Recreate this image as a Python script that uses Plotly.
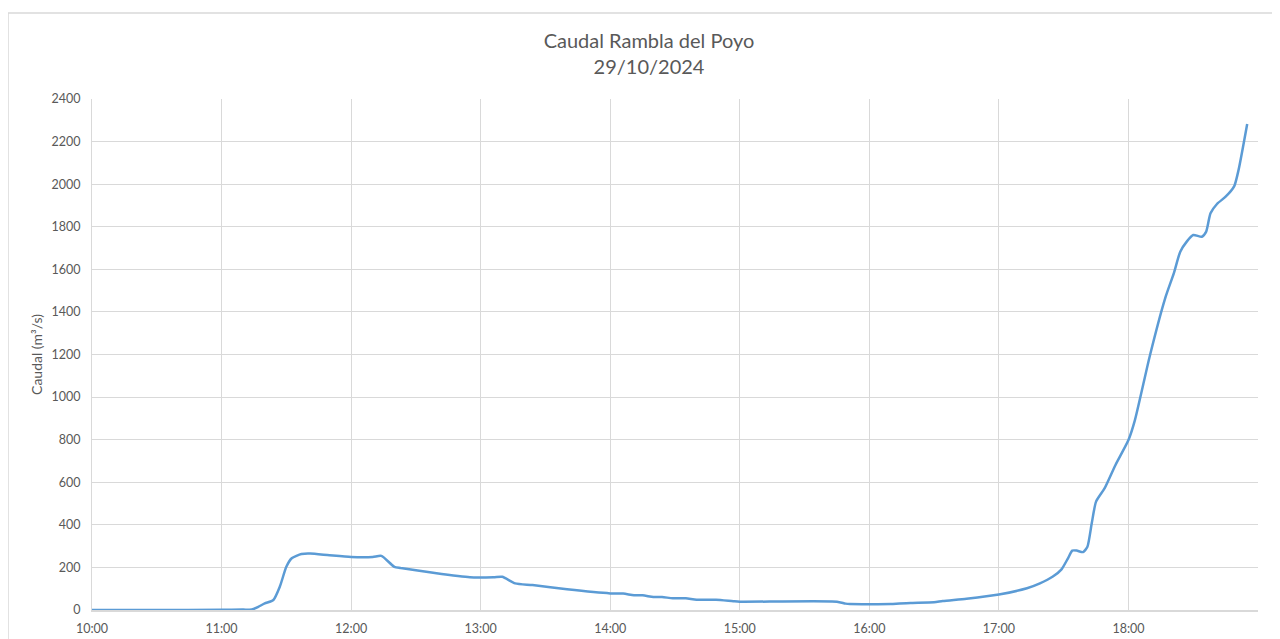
import plotly.graph_objects as go

times = ["10:00", "10:30", "11:00", "11:10", "11:14", "11:17", "11:20", "11:24", "11:27", "11:30",
         "11:32:30", "11:37", "11:41", "11:50", "12:00", "12:10", "12:14", "12:20", "12:23", "12:38",
         "12:55", "13:06", "13:10", "13:16", "13:24", "13:40", "14:00", "14:06", "14:11", "14:15",
         "14:20", "14:24", "14:29", "14:35", "14:40", "14:49", "14:57", "15:00", "15:45", "15:49",
         "15:51", "16:10", "16:14", "16:20", "16:30", "16:34", "16:45", "17:00", "17:13", "17:19",
         "17:25", "17:29", "17:32", "17:34", "17:36", "17:39", "17:41", "17:43", "17:45", "17:49",
         "17:54", "18:00", "18:03", "18:10", "18:17", "18:21", "18:24", "18:27", "18:30", "18:34",
         "18:36", "18:38", "18:41", "18:45", "18:49", "18:51", "18:55"]
caudal = [0, 0, 1, 2, 2, 15, 31, 47, 110, 203,
          243, 263, 265, 257, 249, 249, 254, 203, 197, 175,
          154, 154, 156, 125, 117, 97, 78, 77, 69, 69,
          61, 61, 55, 55, 48, 48, 41, 39, 39, 30,
          28, 28, 31, 33, 36, 42, 53, 73, 102, 125,
          157, 191, 243, 279, 279, 272, 297, 407, 509, 572,
          681, 798, 892, 1198, 1464, 1581, 1683, 1730, 1761, 1753,
          1777, 1863, 1907, 1941, 1991, 2067, 2283]

date = "2024-10-29 "
x = [date + t for t in times]

title_lines = ["Caudal Rambla del Poyo", "29/10/2024"]
y_title = "Caudal (m³/s)"

FONT = "Lato"
TXT = "#595959"
GRID = "#d9d9d9"

fig = go.Figure()
fig.add_trace(go.Scatter(
    x=x, y=caudal, mode="lines",
    line=dict(color="#5b9bd5", width=2.5, shape="spline", smoothing=0.6),
    hoverinfo="x+y", showlegend=False,
))

# page body has an 8px margin: figure coords = screen coords - 8
OFF = 8
W, H = 1264, 631
L, R, T, B = 92 - OFF, W - (1258 - OFF), 99 - OFF, H - (610 - OFF)
pw, ph = W - L - R, H - T - B

def sx(px):
    return (px - OFF - L) / pw

def sy(py):
    return (H - B - (py - OFF)) / ph

fig.update_layout(
    width=W, height=H,
    margin=dict(l=L, r=R, t=T, b=B, autoexpand=False),
    paper_bgcolor="white", plot_bgcolor="white",
    font=dict(family=FONT, color=TXT, size=12),
    title=dict(
        text="<br>".join(title_lines),
        x=(649 - OFF) / W, xref="container", xanchor="center",
        y=1 - (48 - OFF) / H, yref="container", yanchor="top",
        font=dict(family=FONT, size=20, color=TXT),
    ),
    xaxis=dict(
        type="date",
        range=[date + "10:00", date + "19:00"],
        dtick=3600000, tick0=date + "10:00",
        tickformat="%H:%M",
        showgrid=True, gridcolor=GRID, gridwidth=1,
        showline=True, linecolor=GRID, linewidth=1.5,
        ticks="", zeroline=False, automargin=False,
        tickfont=dict(family=FONT, size=12.5, color=TXT),
        ticklabelstandoff=6,
    ),
    yaxis=dict(
        range=[0, 2400], dtick=200,
        showgrid=True, gridcolor=GRID, gridwidth=1,
        showline=True, linecolor=GRID, linewidth=1,
        ticks="", zeroline=False, automargin=False,
        tickfont=dict(family=FONT, size=12.5, color=TXT),
        ticklabelstandoff=8,
        title=dict(text=y_title, standoff=5, font=dict(family=FONT, size=14, color=TXT)),
    ),
    shapes=[
        dict(type="line", xref="paper", yref="paper",
             x0=sx(8), x1=sx(1300), y0=sy(13), y1=sy(13),
             line=dict(color=GRID, width=1.5)),
        dict(type="line", xref="paper", yref="paper",
             x0=sx(8), x1=sx(8), y0=sy(13), y1=sy(660),
             line=dict(color=GRID, width=1.5)),
    ],
)

fig.write_html("out.html")
